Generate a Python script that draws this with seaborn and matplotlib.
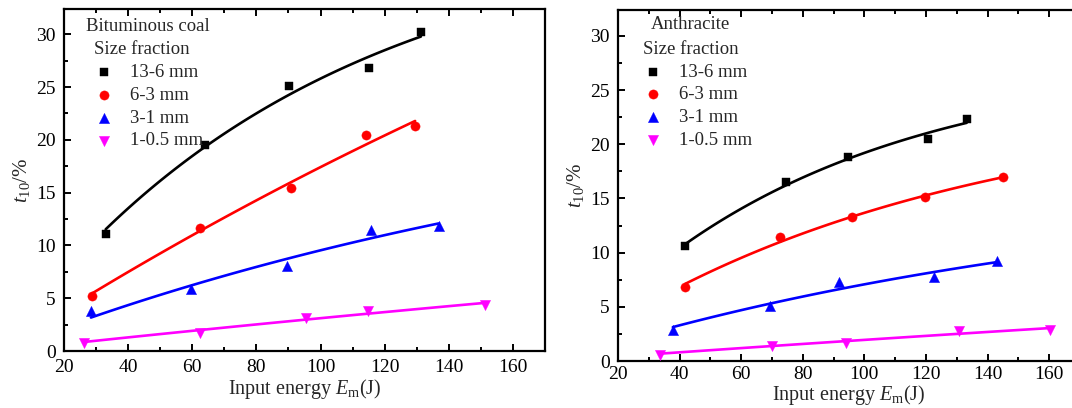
import numpy as np
import pandas as pd
import matplotlib
matplotlib.use("Agg")
import matplotlib.pyplot as plt
import seaborn as sns
from matplotlib.ticker import MultipleLocator

sns.set_style("ticks")
plt.rcParams['font.family'] = ['Liberation Serif', 'DejaVu Serif']
plt.rcParams['mathtext.fontset'] = 'custom'
plt.rcParams['mathtext.rm'] = 'Liberation Serif'
plt.rcParams['mathtext.it'] = 'Liberation Serif:italic'

size_labels = ["13-6 mm", "6-3 mm", "3-1 mm", "1-0.5 mm"]
colors = ["black", "#ff0000", "#0000ff", "#ff00ff"]
markers = ["s", "o", "^", "v"]
msizes = [38, 44, 54, 54]

# Bituminous coal
bit_x_13_6 = [33.0, 64.0, 90.3, 115.0, 131.3]
bit_y_13_6 = [11.1, 19.5, 25.1, 26.8, 30.2]
bit_x_6_3 = [28.8, 62.5, 90.8, 114.3, 129.5]
bit_y_6_3 = [5.2, 11.7, 15.4, 20.5, 21.3]
bit_x_3_1 = [28.4, 59.6, 89.6, 115.6, 136.8]
bit_y_3_1 = [3.8, 5.9, 8.1, 11.5, 11.8]
bit_x_1_05 = [26.1, 62.3, 95.4, 114.7, 151.2]
bit_y_1_05 = [0.8, 1.7, 3.1, 3.8, 4.4]

# Anthracite
ant_x_13_6 = [41.9, 74.6, 94.8, 120.6, 133.2]
ant_y_13_6 = [10.6, 16.5, 18.8, 20.5, 22.3]
ant_x_6_3 = [41.9, 72.6, 96.0, 119.8, 144.9]
ant_y_6_3 = [6.8, 11.4, 13.3, 15.1, 17.0]
ant_x_3_1 = [37.8, 69.4, 91.9, 122.5, 142.9]
ant_y_3_1 = [2.9, 5.1, 7.3, 7.8, 9.2]
ant_x_1_05 = [33.6, 70.0, 94.0, 130.8, 160.4]
ant_y_1_05 = [0.6, 1.4, 1.7, 2.8, 2.9]

panels = [
    ("Bituminous coal",
     [(bit_x_13_6, bit_y_13_6), (bit_x_6_3, bit_y_6_3), (bit_x_3_1, bit_y_3_1), (bit_x_1_05, bit_y_1_05)]),
    ("Anthracite",
     [(ant_x_13_6, ant_y_13_6), (ant_x_6_3, ant_y_6_3), (ant_x_3_1, ant_y_3_1), (ant_x_1_05, ant_y_1_05)]),
]


def jk_fit(x, y):
    x = np.asarray(x); y = np.asarray(y)
    best = None
    for b in np.logspace(-5, -0.5, 4000):
        f = 1 - np.exp(-b * x)
        A = np.sum(y * f) / np.sum(f * f)
        sse = np.sum((y - A * f) ** 2)
        if best is None or sse < best[0]:
            best = (sse, A, b)
    return best[1], best[2]


fig = plt.figure(figsize=(10.72, 4.08), dpi=100)
positions = [[64 / 1072, 57 / 408, 481 / 1072, 342 / 408],
             [618 / 1072, 47 / 408, 462 / 1072, 351 / 408]]
title_pos = [(0.046, 0.950), (0.070, 0.958)]
leg_anchor = [(0.063, 0.905), (0.055, 0.912)]
xlabel_pads = [0.5, 0.0]
xtick_pads = [6, 3.5]

for (title, series), pos, tp, la, lp, xp in zip(panels, positions, title_pos, leg_anchor,
                                             xlabel_pads, xtick_pads):
    ax = fig.add_axes(pos)
    for (x, y), lab, c, m, s in zip(series, size_labels, colors, markers, msizes):
        A, b = jk_fit(x, y)
        xx = np.linspace(min(x), max(x), 100)
        fit_df = pd.DataFrame({"x": xx, "y": A * (1 - np.exp(-b * xx))})
        sns.lineplot(data=fit_df, x="x", y="y", ax=ax, color=c, lw=1.9, legend=False)
        df = pd.DataFrame({"x": x, "y": y})
        sns.scatterplot(data=df, x="x", y="y", ax=ax, color=c, marker=m, s=s,
                        edgecolor=c, linewidth=0.3, label=lab, zorder=5)
    ax.set_xlim(20, 170)
    ax.set_ylim(0, 32.4)
    ax.xaxis.set_major_locator(MultipleLocator(20))
    ax.xaxis.set_minor_locator(MultipleLocator(10))
    ax.yaxis.set_major_locator(MultipleLocator(5))
    ax.yaxis.set_minor_locator(MultipleLocator(2.5))
    ax.tick_params(which="both", direction="in", width=1.4, labelsize=14,
                   top=True, right=False, colors="black")
    ax.tick_params(which="major", length=5, pad=6)
    ax.tick_params(which="minor", length=3)
    ax.tick_params(axis="x", which="both", top=True, labeltop=False, pad=xp)
    for sp in ax.spines.values():
        sp.set_linewidth(1.6)
        sp.set_color("black")
    ax.set_xlabel(r"Input energy $E_\mathrm{m}$(J)", fontsize=14.5, labelpad=lp)
    ax.set_ylabel(r"$t_{10}$/%", fontsize=15, labelpad=3)
    ax.text(tp[0], tp[1], title, transform=ax.transAxes, fontsize=13.5,
            ha="left", va="center")
    leg = ax.legend(title="Size fraction", loc="upper left", bbox_to_anchor=la,
                    frameon=False, fontsize=13.5, title_fontsize=13.5,
                    handlelength=1.0, handletextpad=0.9, labelspacing=0.3,
                    borderaxespad=0.0, borderpad=0.0, alignment="left")

fig.savefig("out.png", dpi=100)
